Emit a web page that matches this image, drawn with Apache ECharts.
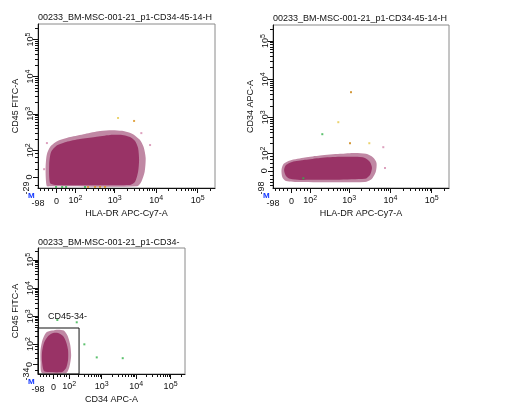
<!DOCTYPE html>
<html>
<head>
<meta charset="utf-8">
<script src="https://cdn.jsdelivr.net/npm/echarts@6.0.0/dist/echarts.min.js"></script>
<style>
  html, body { margin: 0; padding: 0; background: #ffffff; }
  #chart { width: 507px; height: 415px; }
</style>
</head>
<body>
<div id="chart"></div>
<script>
// ---------------- data ----------------
const sampleName = '00233_BM-MSC-001-21_p1-CD34-45-14-HLA-DR';
const hlaName = 'HLA-DR APC-Cy7-A';
const cd45Name = 'CD45 FITC-A';
const cd34Name = 'CD34 APC-A';
const axisMax = 262144;
const hlaMin = -98, cd34Min = -98, cd45MinA = -29, cd45MinB = -34;
const decadeTicks = [0, 100, 1000, 10000, 100000];
const logMinorMult = [2, 3, 4, 5, 6, 7, 8, 9];

// Plot 1: HLA-DR (x) vs CD45 (y)
const p1Core = [[-30,-15],[-34,32],[-25,89],[-2,133],[44,171],[136,207],[334,235],[775,267],
  [1512,267],[2355,235],[3110,183],[3675,116],[3880,50],[3675,13],[3110,-12],[2355,-20],[-7,-20]];
const p1Fringe = [[-46,-23],[-52,18],[-46,73],[-28,128],[6.5,185],[66,235],[185,285],[442,340],
  [866,360],[1512,345],[2630,290],[4000,200],[5000,124],[5600,58],[5300,13],[4400,-12],[3500,-24],[-30,-24]];
const p1Pink = [[7150,141],[-60,20],[4400,300],[-45,160]];
const p1Yellow = [[1208,770]];
const p1Orange = [[2944,640],[222,-26],[334,-26],[442,-26],[586,-26]];
const p1Green = [[-2.4,-26],[25,-26],[44,-26],[185,-26]];

// Plot 2: HLA-DR (x) vs CD34 (y)
const p2Core = [[-25,-25],[-34,4.6],[-25,29],[2.5,45],[66,57],[188,69],[597,76],[1383,76],
  [2414,69],[3190,45],[3565,14],[3190,-20],[2414,-40],[40,-46],[-6.4,-40]];
const p2Fringe = [[-42,-33],[-47,4.6],[-37,34],[-6.4,54],[66,72],[188,85],[597,97],[1383,104],
  [2555,97],[3800,72],[4600,40],[4400,-5],[3400,-44],[2414,-58],[40,-58],[-25,-52]];
const p2Pink = [[6700,157],[7370,14]];
const p2Yellow = [[542,749],[3070,204]];
const p2Orange = [[1106,4578],[1046,204]];
const p2Green = [[216,360],[57,-37]];

// Plot 3: CD34 (x) vs CD45 (y), gate CD45-34-
const p3Core = [[-54,-22],[-67,7.9],[-67,47],[-54,110],[-29,199],[-2,255],[25,255],[55,199],
  [76,120],[91,58],[91,14.6],[76,-11.6],[48.5,-26],[-29,-26]];
const p3Fringe = [[-67,-30],[-78,7.9],[-78,58],[-64,142],[-40,265],[-7.5,310],[25,335],[60,310],
  [88,199],[110,92],[118,29],[102,-8.3],[76,-30]];
const p3Green = [[21,740],[181,613],[310,98],[719,24],[4092,21]];
const gateName = 'CD45-34-';
const gateX = [-98, 214];
const gateY = [-34, 384];

// ---------------- scale helpers ----------------
const LN10 = Math.LN10;
const FONT = 'Liberation Sans, Arial, sans-serif';
function tf(v, c) { return Math.asinh(v / c) / LN10; }

const scales = {
  hla: { c: 80, min: hlaMin },
  cd34: { c: 80, min: cd34Min },
  cd45a: { c: 39.5, min: cd45MinA },
  cd45b: { c: 39.5, min: cd45MinB }
};

function minorTicks(s) {
  const out = [];
  for (let v = -80; v < 100; v += 20) {
    if (v !== 0 && v > s.min) out.push(tf(v, s.c));
  }
  for (let n = 2; n <= 5; n++) {
    logMinorMult.forEach(function (k) {
      const v = k * Math.pow(10, n);
      if (v < axisMax) out.push(tf(v, s.c));
    });
  }
  return out;
}

function labelText(val, s) {
  const all = [s.min].concat(decadeTicks);
  let best = all[0], bd = Infinity;
  all.forEach(function (t) { const d = Math.abs(tf(t, s.c) - val); if (d < bd) { bd = d; best = t; } });
  if (best === s.min) return '{m|' + s.min + '}';
  if (best === 0) return '{z|0}';
  return '{b|10}{s|' + Math.round(Math.log10(best)) + '}';
}

function richFor(isY) {
  return {
    b: { fontSize: 9, lineHeight: 10, verticalAlign: 'bottom', fontFamily: FONT, color: '#111' },
    s: { fontSize: 7, lineHeight: 8, padding: [0, 0, 5, 0], verticalAlign: 'top', fontFamily: FONT, color: '#111' },
    z: { fontSize: 9, lineHeight: 10, padding: isY ? [0, 0, 0, 0] : [3, 0, 0, 0], fontFamily: FONT, color: '#111' },
    m: { fontSize: 9, lineHeight: 10, padding: isY ? [0, 0, 7, 0] : [8, 0, 0, 0], fontFamily: FONT, color: '#111' }
  };
}

function axisPair(dim, gridIndex, s, name) {
  const isY = dim === 'y';
  const lo = tf(s.min, s.c), hi = tf(axisMax, s.c);
  const labelVals = [s.min].concat(decadeTicks).map(function (t) { return tf(t, s.c); });
  const majorVals = decadeTicks.map(function (t) { return tf(t, s.c); });
  const major = {
    type: 'value', gridIndex: gridIndex, position: isY ? 'left' : 'bottom',
    min: lo, max: hi, scale: true,
    name: name, nameLocation: 'middle', nameGap: isY ? 18 : 19,
    nameTextStyle: { fontSize: 9, color: '#111', fontFamily: FONT },
    axisLine: { show: true, onZero: false, lineStyle: { color: '#111', width: 1 } },
    axisTick: { show: true, inside: false, length: 5, customValues: majorVals, lineStyle: { color: '#111' } },
    axisLabel: {
      show: true, customValues: labelVals, margin: isY ? 3 : 7, rotate: isY ? 90 : 0,
      formatter: function (val) { return labelText(val, s); },
      rich: richFor(isY)
    },
    splitLine: { show: false }
  };
  const minor = {
    type: 'value', gridIndex: gridIndex, position: isY ? 'left' : 'bottom',
    min: lo, max: hi, scale: true,
    axisLine: { show: false, onZero: false },
    axisTick: { show: true, inside: false, length: 3, customValues: minorTicks(s), lineStyle: { color: '#111' } },
    axisLabel: { show: false },
    splitLine: { show: false }
  };
  return [major, minor];
}

const plots = [
  { grid: { left: 38, top: 24, width: 177, height: 164 }, xs: scales.hla, ys: scales.cd45a, xn: hlaName, yn: cd45Name },
  { grid: { left: 273, top: 25, width: 176, height: 163 }, xs: scales.hla, ys: scales.cd34, xn: hlaName, yn: cd34Name },
  { grid: { left: 38, top: 248, width: 147, height: 126 }, xs: scales.cd34, ys: scales.cd45b, xn: cd34Name, yn: cd45Name }
];

const grids = [], xAxes = [], yAxes = [], series = [], titles = [];
plots.forEach(function (p, i) {
  grids.push(Object.assign({ show: true, borderColor: '#8a8a8a', borderWidth: 1, backgroundColor: 'transparent' }, p.grid));
  axisPair('x', i, p.xs, p.xn).forEach(function (a) { xAxes.push(a); });
  axisPair('y', i, p.ys, p.yn).forEach(function (a) { yAxes.push(a); });
  titles.push({
    text: sampleName, left: p.grid.left, top: p.grid.top - (i === 2 ? 10 : 11), padding: 0,
    textStyle: { fontSize: 9, fontWeight: 'normal', color: '#111', fontFamily: FONT,
      width: p.grid.width, overflow: 'truncate', ellipsis: '' }
  });
});

function polySeries(pi, pts, fill, smooth) {
  const p = plots[pi];
  return {
    type: 'custom', coordinateSystem: 'cartesian2d', xAxisIndex: pi * 2, yAxisIndex: pi * 2,
    silent: true, clip: true, z: 2,
    data: pts.map(function (q) { return [tf(q[0], p.xs.c), tf(q[1], p.ys.c)]; }),
    renderItem: function (params, api) {
      if (params.dataIndex !== 0) return null;
      const points = pts.map(function (q) { return api.coord([tf(q[0], p.xs.c), tf(q[1], p.ys.c)]); });
      return { type: 'polygon', shape: { points: points, smooth: smooth }, style: { fill: fill, stroke: null } };
    }
  };
}

function dotSeries(pi, pts, color) {
  const p = plots[pi];
  return {
    type: 'scatter', xAxisIndex: pi * 2, yAxisIndex: pi * 2, silent: true, z: 3,
    symbol: 'rect', symbolSize: 2, itemStyle: { color: color },
    data: pts.map(function (q) { return [tf(q[0], p.xs.c), tf(q[1], p.ys.c)]; })
  };
}

const CORE = '#993366', FRINGE = '#c088a4';
series.push(polySeries(0, p1Fringe, FRINGE, 0.25), polySeries(0, p1Core, CORE, 0.25));
series.push(dotSeries(0, p1Pink, '#d48aae'), dotSeries(0, p1Yellow, '#e6c84a'),
  dotSeries(0, p1Orange, '#d9901a'), dotSeries(0, p1Green, '#33b24a'));
series.push(polySeries(1, p2Fringe, FRINGE, 0.25), polySeries(1, p2Core, CORE, 0.25));
series.push(dotSeries(1, p2Pink, '#d48aae'), dotSeries(1, p2Yellow, '#e6c84a'),
  dotSeries(1, p2Orange, '#c8800a'), dotSeries(1, p2Green, '#33b24a'));
series.push(polySeries(2, p3Fringe, FRINGE, 0.25), polySeries(2, p3Core, CORE, 0.25));
series.push(dotSeries(2, p3Green, '#33b24a'));

// gate
(function () {
  const p = plots[2];
  series.push({
    type: 'custom', coordinateSystem: 'cartesian2d', xAxisIndex: 4, yAxisIndex: 4, silent: true, z: 5,
    encode: { x: [0, 2], y: [1, 3] },
    data: [[tf(gateX[0], p.xs.c), tf(gateY[1], p.ys.c), tf(gateX[1], p.xs.c), tf(gateY[0], p.ys.c)]],
    renderItem: function (params, api) {
      const a = api.coord([api.value(0), api.value(1)]);
      const b = api.coord([api.value(2), api.value(3)]);
      return {
        type: 'group', children: [
          { type: 'rect', shape: { x: a[0], y: a[1], width: b[0] - a[0], height: b[1] - a[1] },
            style: { fill: null, stroke: '#111', lineWidth: 1 } },
          { type: 'text', x: a[0] + 10, y: a[1] - 11,
            style: { text: gateName, fontSize: 9, fontFamily: FONT, fill: '#111', align: 'left', verticalAlign: 'middle' } }
        ]
      };
    }
  });
})();

const graphics = plots.map(function (p) {
  return { type: 'text', left: p.grid.left - 10, top: p.grid.top + p.grid.height + 4,
    style: { text: 'M', fontSize: 8, fontWeight: 'bold', fontFamily: FONT, fill: '#1438ff' } };
});

const chart = echarts.init(document.getElementById('chart'), null, { renderer: 'canvas' });
chart.setOption({
  animation: false,
  backgroundColor: '#ffffff',
  title: titles,
  grid: grids,
  xAxis: xAxes,
  yAxis: yAxes,
  series: series,
  graphic: graphics
});
</script>
</body>
</html>
